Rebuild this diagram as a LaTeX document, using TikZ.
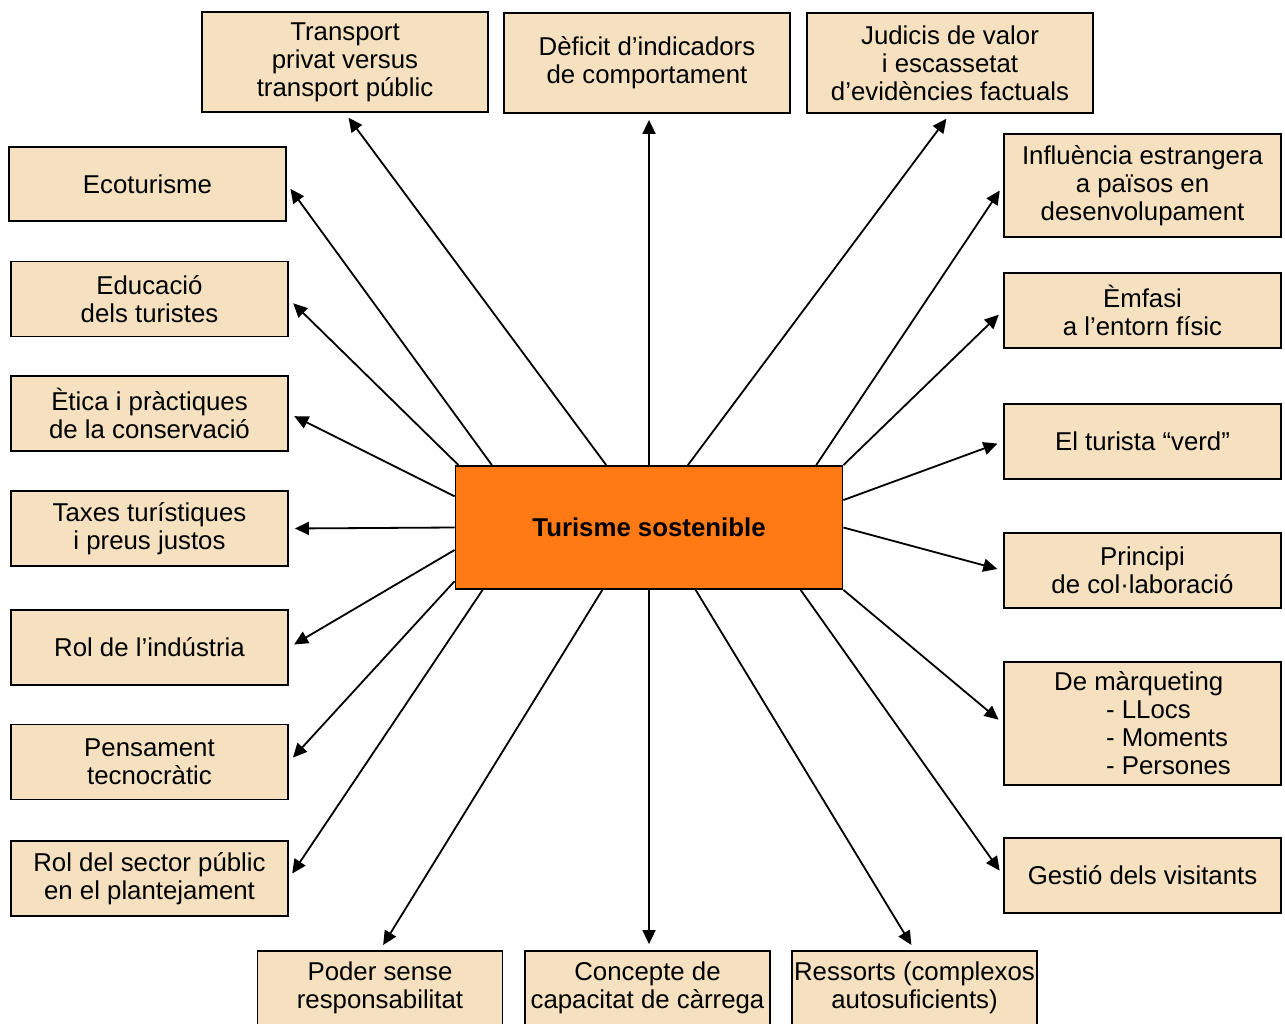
\documentclass[tikz,border=0pt]{standalone}
\usepackage{fontspec}
\setmainfont{Liberation Sans}
\usetikzlibrary{arrows.meta,calc}
\definecolor{boxfill}{RGB}{245,224,192}
\definecolor{hubfill}{RGB}{255,122,20}
\tikzstyle{topic}=[draw=black, fill=boxfill, line width=0.9pt, align=center, inner sep=0pt, font=\fontsize{12.9}{14}\selectfont]
\tikzstyle{hub}=[draw=black, fill=hubfill, line width=0.9pt, minimum width=193.5pt, minimum height=61.5pt, inner sep=0pt, font=\bfseries\fontsize{12.9}{14}\selectfont]
\tikzstyle{link}=[line width=0.9pt, -{Triangle[length=7pt,width=6.5pt]}, shorten >=3pt]

\begin{document}
\begin{tikzpicture}[x=0.5pt, y=-0.5pt]
			\useasboundingbox (0,0) rectangle (1285,1023);
			%The central node
			\node[hub] (hub) at (649,527.5) {Turisme sostenible};
			%Top row
			\foreach \pos/\name/\txt in {{(345,62)/t1/Transport\\privat versus\\transport públic},
									{(647,63)/t2/Dèficit d’indicadors\\de comportament},
									{(950,63)/t3/Judicis de valor\\i escassetat\\d’evidències factuals}}
			\node[topic, minimum width=143pt, minimum height=50pt] (\name) at \pos {\txt};
			%Left column
			\node[topic, minimum width=138.5pt, minimum height=37pt] (l1) at (147.5,184) {Ecoturisme};
			\foreach \pos/\name/\txt in {{(149.5,299)/l2/Educació\\dels turistes},
									{(149.5,413.5)/l3/Ètica i pràctiques\\de la conservació},
									{(149.5,528.5)/l4/Taxes turístiques\\i preus justos},
									{(149.5,647.5)/l5/Rol de l’indústria},
									{(149.5,762)/l6/Pensament\\tecnocràtic},
									{(149.5,878.5)/l7/Rol del sector públic\\en el plantejament}}
			\node[topic, minimum width=138.5pt, minimum height=37.5pt] (\name) at \pos {\txt};
			%Right column
			\node[topic, minimum width=138.5pt, minimum height=51.5pt] (r1) at (1142.5,185.5) {Influència estrangera\\a països en\\desenvolupament};
			\foreach \pos/\name/\txt in {{(1142.5,310.5)/r2/Èmfasi\\a l’entorn físic},
									{(1142.5,441.5)/r3/El turista “verd”},
									{(1142.5,570.5)/r4/Principi\\de col·laboració},
									{(1142.5,875.5)/r6/Gestió dels visitants}}
			\node[topic, minimum width=138.5pt, minimum height=37.5pt] (\name) at \pos {\txt};
			\node[topic, align=left, minimum width=138.5pt, minimum height=61.5pt] (r5) at (1142.5,723.5)
				{De màrqueting\\\hspace*{26pt}- LLocs\\\hspace*{26pt}- Moments\\\hspace*{26pt}- Persones};
			%Bottom row
			\foreach \pos/\name/\txt in {{(380,988)/b1/Poder sense\\responsabilitat},
									{(647.5,988)/b2/Concepte de\\capacitat de càrrega},
									{(914.5,988)/b3/Ressorts (complexos\\autosuficients)}}
			\node[topic, minimum width=122.5pt, minimum height=37pt] (\name) at \pos {\txt};
			%Straight up and down
			\draw[link] (hub.north) -- (hub.north |- t2.south);
			\draw[link] (hub.south) -- (hub.south |- b2.north);
			%Arrows leaving the top edge
			\foreach \f/\dest in {0.39/t1.south, 0.6/t3.south, 0.096/l1.east,
									0.01/l2.east, 0.93/r1.west, 1/r2.west}
			\draw[link] ($(hub.north west)!\f!(hub.north east)$) -- (\dest);
			%Arrows leaving the left edge
			\foreach \f/\dest in {0.25/l3.east, 0.5/l4.east, 0.68/l5.east, 0.93/l6.east}
			\draw[link] ($(hub.north west)!\f!(hub.south west)$) -- (\dest);
			%Arrows leaving the bottom edge
			\foreach \f/\dest in {0.072/l7.east, 0.38/b1.north, 0.62/b3.north, 0.89/r6.west}
			\draw[link] ($(hub.south west)!\f!(hub.south east)$) -- (\dest);
			%Arrows leaving the right edge
			\foreach \f/\dest in {0.28/r3.west, 0.5/r4.west, 1/r5.west}
			\draw[link] ($(hub.north east)!\f!(hub.south east)$) -- (\dest);
		\end{tikzpicture}
\end{document}
